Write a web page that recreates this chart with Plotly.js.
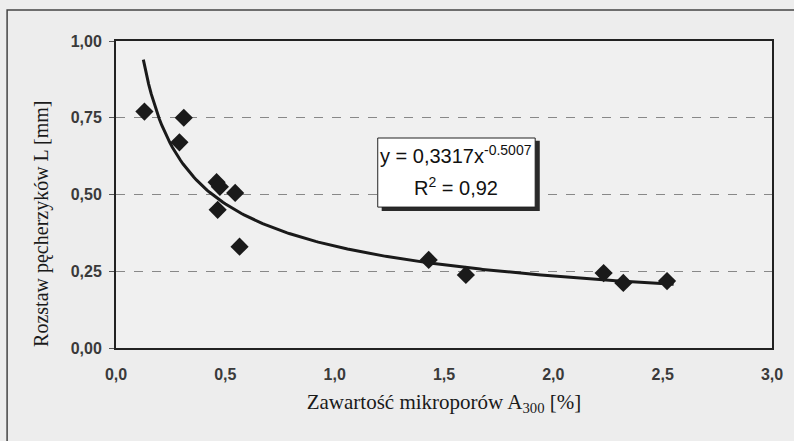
<!DOCTYPE html>
<html>
<head>
<meta charset="utf-8">
<script src="https://cdn.plot.ly/plotly-3.0.1.min.js"></script>
<style>html,body{margin:0;padding:0;background:#ededed;}#chart{width:794px;height:441px;}</style>
</head>
<body>
<div id="chart"></div>
<script>
// Measured points: micropore content A300 [%] vs bubble spacing L [mm]
const microporeContent = [0.13, 0.31, 0.29, 0.46, 0.475, 0.545, 0.465, 0.565, 1.43, 1.60, 2.23, 2.32, 2.52];
const bubbleSpacing    = [0.77, 0.75, 0.67, 0.54, 0.525, 0.505, 0.45, 0.33, 0.287, 0.238, 0.244, 0.212, 0.218];
// Power trendline y = a * x^b (as printed on the chart)
const fitA = 0.3317;
const fitB = -0.5007;
const fitRange = [0.125, 2.55];
const yTicks = [0, 0.25, 0.5, 0.75, 1.0];
const xTicks = [0, 0.5, 1.0, 1.5, 2.0, 2.5, 3.0];

const fitX = [], fitY = [];
for (let i = 0; i <= 200; i++) {
  const x = fitRange[0] + (fitRange[1] - fitRange[0]) * i / 200;
  fitX.push(x);
  fitY.push(fitA * Math.pow(x, fitB));
}

const traces = [
  {x: fitX, y: fitY, mode: 'lines', line: {color: '#1a1a1a', width: 3}, hoverinfo: 'skip'},
  {x: microporeContent, y: bubbleSpacing, mode: 'markers',
   marker: {symbol: 'diamond', size: 14, color: '#1a1a1a'}}
];

const tickFont = {family: 'Liberation Sans, Arial, sans-serif', size: 16, color: '#3a3a3a', weight: 'bold'};
const titleFont = {family: 'Liberation Serif, Times New Roman, serif', size: 21, color: '#1a1a1a'};
const yTitleFont = {family: 'Liberation Serif, Times New Roman, serif', size: 20, color: '#1a1a1a'};
const boxFont = {family: 'Liberation Sans, Arial, sans-serif', size: 20, color: '#111'};

const layout = {
  width: 794, height: 441,
  margin: {l: 116, r: 22, t: 41, b: 93},
  paper_bgcolor: '#ededed', plot_bgcolor: '#f0f0f0',
  separators: ', ',
  showlegend: false,
  xaxis: {
    range: [0, 3], tickvals: xTicks, tickformat: '.1f',
    showgrid: false, zeroline: false,
    showline: true, linecolor: '#222', linewidth: 2, mirror: true,
    ticks: '', ticklabelstandoff: 11,
    tickfont: tickFont,
    title: {text: 'Zawartość mikroporów A<sub>300</sub> [%]', font: titleFont, standoff: 12}
  },
  yaxis: {
    range: [0, 1], tickvals: yTicks, tickformat: '.2f',
    showgrid: true, gridcolor: '#888', griddash: 'dash', gridwidth: 1,
    zeroline: false,
    showline: true, linecolor: '#222', linewidth: 2, mirror: true,
    ticks: 'outside', ticklen: 5, tickcolor: '#555', ticklabelstandoff: 4,
    tickfont: tickFont
  },
  shapes: [
    // outer chart frame
    {type: 'rect', xref: 'paper', yref: 'paper', x0: -0.166, x1: 1.1, y0: -0.4, y1: 1.101,
     line: {color: '#444', width: 1.5}, fillcolor: 'rgba(0,0,0,0)', layer: 'below'},
    // equation box shadow
    {type: 'rect', xref: 'paper', yref: 'paper', x0: 0.405, x1: 0.646, y0: 0.446, y1: 0.675,
     line: {width: 0}, fillcolor: '#2a2a2a'},
    // equation box
    {type: 'rect', xref: 'paper', yref: 'paper', x0: 0.399, x1: 0.639, y0: 0.459, y1: 0.684,
     line: {color: '#222', width: 1}, fillcolor: '#ffffff'}
  ],
  annotations: [
    {xref: 'paper', yref: 'paper', x: 0.519, y: 0.63, xanchor: 'center', yanchor: 'middle',
     showarrow: false, text: 'y = 0,3317x<sup>-0.5007</sup>', font: boxFont},
    {xref: 'paper', yref: 'paper', x: 0.519, y: 0.525, xanchor: 'center', yanchor: 'middle',
     showarrow: false, text: 'R<sup>2</sup> = 0,92', font: boxFont},
    // y-axis title
    {xref: 'paper', yref: 'paper', x: -0.114, y: 0.405, xanchor: 'center', yanchor: 'middle',
     showarrow: false, textangle: -90, text: 'Rozstaw pęcherzyków L [mm]', font: yTitleFont}
  ]
};

Plotly.newPlot('chart', traces, layout, {displayModeBar: false, staticPlot: true});
</script>
</body>
</html>
